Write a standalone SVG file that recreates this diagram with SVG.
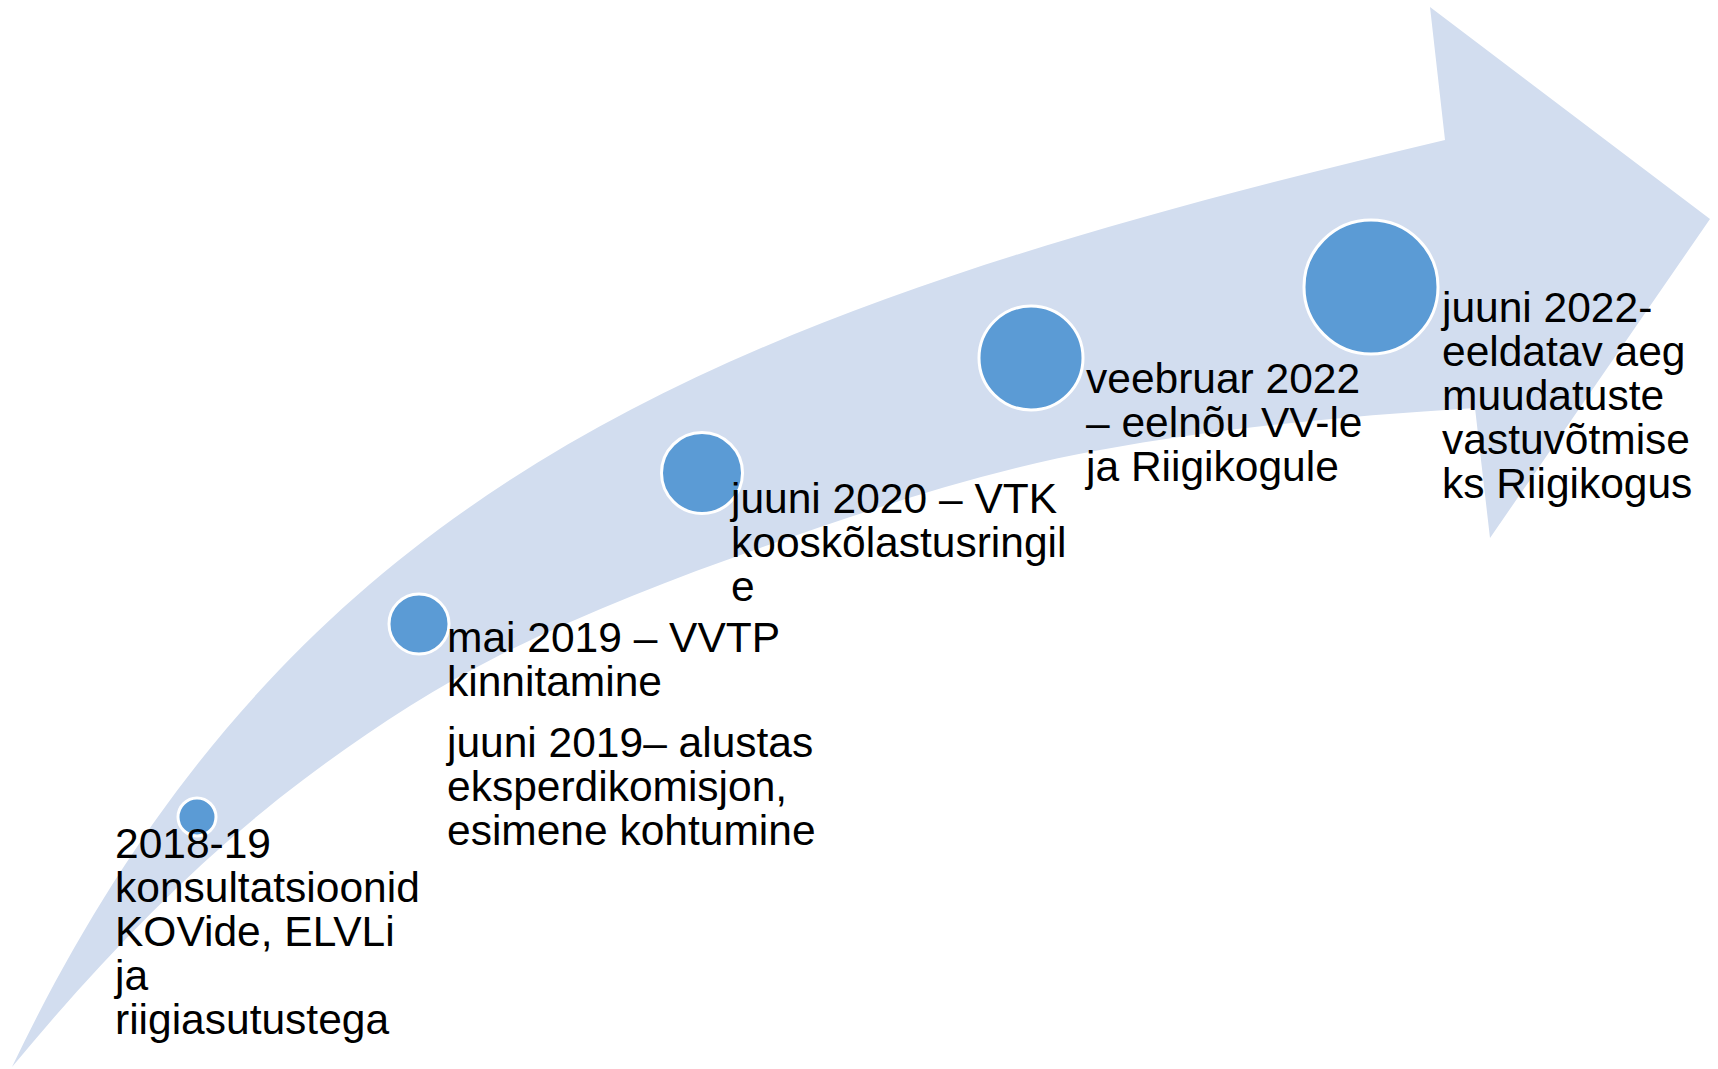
<svg xmlns="http://www.w3.org/2000/svg" width="1718" height="1069" viewBox="0 0 1718 1069">
<style>
.arrow{fill:#D2DDEF;stroke:none}
.dot{fill:#5B9BD5;stroke:#FFFFFF;stroke-width:3}
.lbl{font-family:"Liberation Sans",Arial,sans-serif;font-size:42.5px;fill:#000000}
</style>
<rect width="1718" height="1069" fill="#FFFFFF"/>
<g id="connectors">
<path id="arrow" class="arrow" d="M12,1067 C292,482 718,312 1445,140 L1430,7 L1710,219 L1490,538 L1475,408 C1349,416 1223,427 1100,450 C984,471 871,509 760,548 C672,579 584,613 500,655 C431,690 365,733 303,780 C194,862 99,962 12,1067 Z"/>
</g>
<g id="node1">
<circle class="dot" cx="197" cy="817" r="19"/>
<text class="lbl" x="115" y="858">2018-19</text>
<text class="lbl" x="115" y="902">konsultatsioonid</text>
<text class="lbl" x="115" y="946">KOVide, ELVLi</text>
<text class="lbl" x="115" y="990">ja</text>
<text class="lbl" x="115" y="1034">riigiasutustega</text>
</g>
<g id="node2">
<circle class="dot" cx="419" cy="624" r="30"/>
<text class="lbl" x="447" y="652">mai 2019 – VVTP</text>
<text class="lbl" x="447" y="696">kinnitamine</text>
<text class="lbl" x="447" y="757">juuni 2019– alustas</text>
<text class="lbl" x="447" y="801">eksperdikomisjon,</text>
<text class="lbl" x="447" y="845">esimene kohtumine</text>
</g>
<g id="node3">
<circle class="dot" cx="702" cy="473" r="40.5"/>
<text class="lbl" x="731" y="513">juuni 2020 – VTK</text>
<text class="lbl" x="731" y="557">kooskõlastusringil</text>
<text class="lbl" x="731" y="601">e</text>
</g>
<g id="node4">
<circle class="dot" cx="1031" cy="358" r="52"/>
<text class="lbl" x="1086" y="393">veebruar 2022</text>
<text class="lbl" x="1086" y="437">– eelnõu VV-le</text>
<text class="lbl" x="1086" y="481">ja Riigikogule</text>
</g>
<g id="node5">
<circle class="dot" cx="1371" cy="287" r="67"/>
<text class="lbl" x="1442" y="322">juuni 2022-</text>
<text class="lbl" x="1442" y="366">eeldatav aeg</text>
<text class="lbl" x="1442" y="410">muudatuste</text>
<text class="lbl" x="1442" y="454">vastuvõtmise</text>
<text class="lbl" x="1442" y="498">ks Riigikogus</text>
</g>
</svg>
